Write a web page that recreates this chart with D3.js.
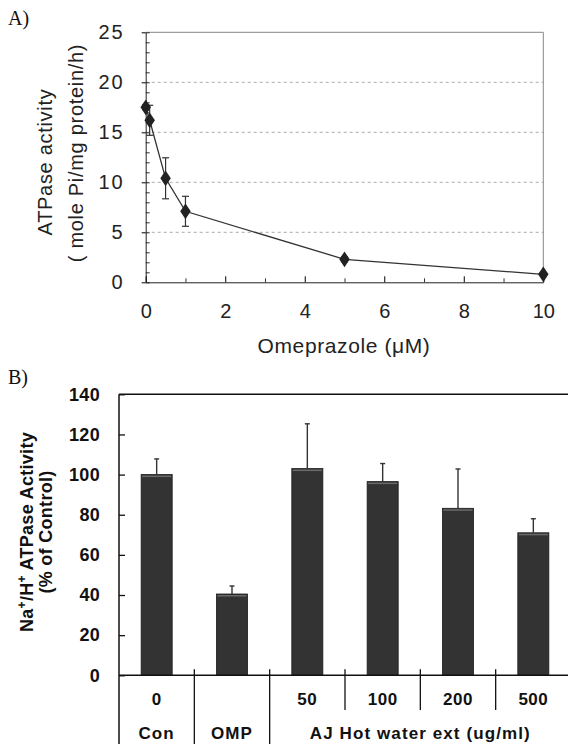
<!DOCTYPE html>
<html>
<head>
<meta charset="utf-8">
<script src="https://cdn.jsdelivr.net/npm/d3@7"></script>
<style>
  body { margin: 0; background: #fff; }
  svg { display: block; }
  .panel-tag { font-family: "Liberation Serif", "Times New Roman", serif; font-size: 20px; fill: #111; }
  .a-text { font-family: "Liberation Sans", Arial, sans-serif; fill: #222; }
  .b-text { font-family: "Liberation Sans", Arial, sans-serif; font-weight: bold; fill: #111; }
</style>
</head>
<body>
<div id="chart"></div>
<script>
// Panel A: dose response to omeprazole
const omeprazoleDose = [0, 0.1, 0.5, 1, 5, 10];
const atpaseActivity = [17.5, 16.2, 10.4, 7.1, 2.3, 0.8];
const atpaseError = [0.25, 1.5, 2.05, 1.5, 0.25, 0.15];
const aYTicks = [0, 5, 10, 15, 20, 25];
const aXTicks = [0, 2, 4, 6, 8, 10];

// Panel B: Na+/H+ ATPase activity (% of control)
const barIds = ['Con', 'OMP', 'AJ50', 'AJ100', 'AJ200', 'AJ500'];
const doseLabels = ['0', '', '50', '100', '200', '500'];
const barValues = [100, 40.5, 103, 96.5, 83.2, 71];
const barErrors = [7.8, 4, 22.3, 9, 19.6, 7];
const groupLabels = ['Con', 'OMP', 'AJ Hot water ext (ug/ml)'];
const groupSpans = [[0, 0], [1, 1], [2, 5]];
const bYTicks = [0, 20, 40, 60, 80, 100, 120, 140];

const W = 568, H = 744;
const svg = d3.select('#chart').append('svg').attr('width', W).attr('height', H);

// ---------- Panel A ----------
const ax = d3.scaleLinear().domain([0, 10]).range([145.7, 543.3]);
const ay = d3.scaleLinear().domain([0, 25]).range([282.3, 32.3]);

svg.append('text').attr('class', 'panel-tag').attr('x', 8).attr('y', 25).text('A)');

const gA = svg.append('g');

// dashed grid
gA.append('g')
  .selectAll('line')
  .data([5, 10, 15, 20])
  .join('line')
  .attr('x1', ax(0)).attr('x2', ax(10))
  .attr('y1', d => ay(d)).attr('y2', d => ay(d))
  .attr('stroke', '#aaa')
  .attr('stroke-dasharray', '3,3');

// frame top/right
gA.append('path')
  .attr('d', `M${ax(0)},${ay(25)}H${ax(10)}V${ay(0)}`)
  .attr('fill', 'none')
  .attr('stroke', '#888');

// minor y ticks (inside)
gA.append('g')
  .attr('transform', `translate(${ax(0)},0)`)
  .call(d3.axisRight(ay).tickValues(d3.range(0, 26, 1)).tickSize(4).tickFormat(''))
  .call(g => g.select('.domain').remove())
  .call(g => g.selectAll('line').attr('stroke', '#333'));

const yAxisA = gA.append('g')
  .attr('transform', `translate(${ax(0)},0)`)
  .call(d3.axisLeft(ay).tickValues(aYTicks).tickSize(4).tickSizeOuter(0).tickPadding(17));
yAxisA.select('.domain').attr('stroke', '#222');
yAxisA.selectAll('text').attr('class', 'a-text').style('font-size', '20px').style('letter-spacing', '2px').attr('fill', '#222');

// minor x ticks
gA.append('g')
  .attr('transform', `translate(0,${ay(0)})`)
  .call(d3.axisBottom(ax).tickValues([1, 3, 5, 7, 9]).tickSize(-4).tickFormat(''))
  .call(g => g.select('.domain').remove())
  .call(g => g.selectAll('line').attr('stroke', '#333'));

const xAxisA = gA.append('g')
  .attr('transform', `translate(0,${ay(0)})`)
  .call(d3.axisBottom(ax).tickValues(aXTicks).tickSize(-6).tickSizeOuter(0).tickPadding(22));
xAxisA.select('.domain').attr('stroke', '#222');
xAxisA.selectAll('text').attr('class', 'a-text').style('font-size', '20px').attr('fill', '#222');

// axis titles
gA.append('text')
  .attr('class', 'a-text')
  .attr('x', 344).attr('y', 353)
  .attr('text-anchor', 'middle')
  .style('font-size', '21px')
  .style('letter-spacing', '0.6px')
  .text('Omeprazole (\u03bcM)');

const yTitleA = gA.append('text')
  .attr('class', 'a-text')
  .attr('transform', 'rotate(-90)')
  .attr('text-anchor', 'middle')
  .style('font-size', '20px')
  .style('letter-spacing', '0.7px');
yTitleA.append('tspan').attr('x', -162).attr('y', 52).text('ATPase activity');
yTitleA.append('tspan').attr('x', -153).attr('y', 83).text('(  mole Pi/mg protein/h)');

// error bars
const errA = gA.append('g').attr('stroke', '#333').attr('stroke-width', 1.2);
omeprazoleDose.forEach((d, i) => {
  const x = ax(d), y1 = ay(atpaseActivity[i] + atpaseError[i]), y2 = ay(atpaseActivity[i] - atpaseError[i]);
  errA.append('line').attr('x1', x).attr('x2', x).attr('y1', y1).attr('y2', y2);
  errA.append('line').attr('x1', x - 3.5).attr('x2', x + 3.5).attr('y1', y1).attr('y2', y1);
  errA.append('line').attr('x1', x - 3.5).attr('x2', x + 3.5).attr('y1', y2).attr('y2', y2);
});

const lineA = d3.line().x(d => ax(d)).y((d, i) => ay(atpaseActivity[i]));
gA.append('path')
  .datum(omeprazoleDose)
  .attr('d', lineA)
  .attr('fill', 'none')
  .attr('stroke', '#333')
  .attr('stroke-width', 1.3);

gA.append('g')
  .selectAll('path')
  .data(omeprazoleDose)
  .join('path')
  .attr('d', d3.symbol(d3.symbolDiamond, 72))
  .attr('transform', (d, i) => `translate(${ax(d)},${ay(atpaseActivity[i])}) scale(1.15,1)`)
  .attr('fill', '#222');

// ---------- Panel B ----------
svg.append('text').attr('class', 'panel-tag').attr('x', 8).attr('y', 384).text('B)');

const bx = d3.scaleBand().domain(barIds).range([119, 571]).paddingInner(0.588).paddingOuter(0.294);
const by = d3.scaleLinear().domain([0, 140]).range([675.3, 394.3]);
const step = bx.step();
const edge = id => bx(id) - (step - bx.bandwidth()) / 2;

const gB = svg.append('g');

// top border
gB.append('line')
  .attr('x1', 119).attr('x2', W).attr('y1', by(140)).attr('y2', by(140))
  .attr('stroke', '#111').attr('stroke-width', 1.5);

const yAxisB = gB.append('g')
  .attr('transform', 'translate(119,0)')
  .call(d3.axisLeft(by).tickValues(bYTicks).tickSizeInner(-6).tickSizeOuter(0).tickPadding(19));
yAxisB.select('.domain').remove();
yAxisB.selectAll('line').attr('stroke', '#111').attr('stroke-width', 1.3);
yAxisB.selectAll('text').attr('class', 'b-text').style('font-size', '18px').style('letter-spacing', '0.3px').attr('fill', '#111');

// left axis line runs down through the label table
gB.append('line')
  .attr('x1', 119).attr('x2', 119).attr('y1', by(140)).attr('y2', H)
  .attr('stroke', '#111').attr('stroke-width', 1.5);

// bars
const bars = gB.append('g');
bars.selectAll('rect.bar')
  .data(barIds)
  .join('rect')
  .attr('class', 'bar')
  .attr('x', d => bx(d))
  .attr('width', bx.bandwidth())
  .attr('y', (d, i) => by(barValues[i]))
  .attr('height', (d, i) => by(0) - by(barValues[i]))
  .attr('fill', '#333')
  .attr('stroke', '#1a1a1a')
  .attr('stroke-width', 0.8);
bars.selectAll('rect.hl')
  .data(barIds)
  .join('rect')
  .attr('class', 'hl')
  .attr('x', d => bx(d) + 1)
  .attr('width', bx.bandwidth() - 2)
  .attr('y', (d, i) => by(barValues[i]) + 1)
  .attr('height', 1.5)
  .attr('fill', '#6a6a6a');

// error bars (upper only)
const errB = gB.append('g').attr('stroke', '#333').attr('stroke-width', 1.4);
barIds.forEach((id, i) => {
  const cx = bx(id) + bx.bandwidth() / 2;
  const yt = by(barValues[i] + barErrors[i]);
  errB.append('line').attr('x1', cx).attr('x2', cx).attr('y1', by(barValues[i])).attr('y2', yt);
  errB.append('line').attr('x1', cx - 2.5).attr('x2', cx + 2.5).attr('y1', yt).attr('y2', yt);
});

// baseline
gB.append('line')
  .attr('x1', 119).attr('x2', W).attr('y1', by(0)).attr('y2', by(0))
  .attr('stroke', '#111').attr('stroke-width', 1.5);

// divider lines in the label table
const dividers = gB.append('g').attr('stroke', '#111').attr('stroke-width', 1.3);
barIds.slice(1).forEach((id, k) => {
  const i = k + 1;
  const x = edge(id);
  const full = groupSpans.some(s => s[0] === i);
  dividers.append('line').attr('x1', x).attr('x2', x)
    .attr('y1', by(0) - 6).attr('y2', full ? H : 710);
});

// dose labels
gB.append('g')
  .selectAll('text')
  .data(barIds)
  .join('text')
  .attr('class', 'b-text')
  .attr('x', d => bx(d) + bx.bandwidth() / 2)
  .attr('y', 705)
  .attr('text-anchor', 'middle')
  .style('font-size', '17px')
  .style('letter-spacing', '0.5px')
  .text((d, i) => doseLabels[i]);

// group labels
gB.append('g')
  .selectAll('text')
  .data(groupLabels)
  .join('text')
  .attr('class', 'b-text')
  .attr('x', (d, i) => {
    const s = groupSpans[i];
    return (edge(barIds[s[0]]) + edge(barIds[s[1]]) + step) / 2;
  })
  .attr('y', 739)
  .attr('text-anchor', 'middle')
  .style('font-size', '17px')
  .style('letter-spacing', '1.1px')
  .text(d => d);

// y title
const yTitleB = gB.append('text')
  .attr('class', 'b-text')
  .attr('transform', 'rotate(-90)')
  .attr('text-anchor', 'middle')
  .style('font-size', '18px')
  .style('letter-spacing', '0.3px');
const t1 = yTitleB.append('tspan').attr('x', -532).attr('y', 33);
t1.append('tspan').text('Na');
t1.append('tspan').attr('baseline-shift', 'super').style('font-size', '12px').text('+');
t1.append('tspan').text('/H');
t1.append('tspan').attr('baseline-shift', 'super').style('font-size', '12px').text('+');
t1.append('tspan').text(' ATPase Activity');
yTitleB.append('tspan').attr('x', -532).attr('y', 52).text('(% of Control)');
</script>
</body>
</html>
